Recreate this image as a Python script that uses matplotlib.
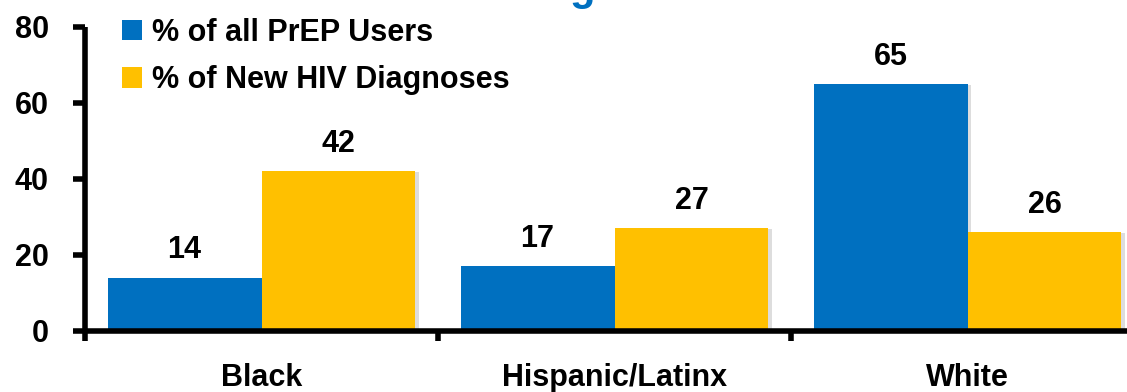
import matplotlib
matplotlib.use("Agg")
import matplotlib.pyplot as plt
import matplotlib.patheffects as pe
from matplotlib.patches import Patch
import numpy as np

# ---- data ----
groups = ["Black", "Hispanic/Latinx", "White"]
prep_users = [14, 17, 65]
new_dx = [42, 27, 26]
series_names = ["% of all PrEP Users", "% of New HIV Diagnoses"]
y_ticks = [0, 20, 40, 60, 80]

BLUE = "#0070C0"
GOLD = "#FFC000"
FS = 22

plt.rcParams["font.family"] = ["Liberation Sans", "DejaVu Sans"]
plt.rcParams["font.weight"] = "bold"

fig = plt.figure(figsize=(11.27, 3.92), dpi=100)
ax = fig.add_axes([85 / 1127, 61 / 392, 1059 / 1127, 304 / 392])

x = np.arange(len(groups))
w = 0.436
shadow = [pe.SimplePatchShadow(offset=(2.5, -0.5), shadow_rgbFace="#909090", alpha=0.3), pe.Normal()]
b1 = ax.bar(x - w / 2, prep_users, w, color=BLUE, zorder=2)
b2 = ax.bar(x + w / 2, new_dx, w, color=GOLD, zorder=2)
for bar in list(b1) + list(b2):
    bar.set_path_effects(shadow)

# value labels over the bars
for bars, vals in ((b1, prep_users), (b2, new_dx)):
    for bar, v in zip(bars, vals):
        ax.annotate(f"{v}", (bar.get_x() + bar.get_width() / 2, v),
                    xytext=(0, 14), textcoords="offset points",
                    ha="center", va="baseline", fontsize=FS, fontweight="bold")

ax.set_xlim(-0.5, 2.5)
ax.set_ylim(0, 80)

for side in ("top", "right"):
    ax.spines[side].set_visible(False)
for side in ("left", "bottom"):
    ax.spines[side].set_linewidth(4)
    ax.spines[side].set_capstyle("butt")

ax.set_yticks(y_ticks)
ax.tick_params(axis="y", length=9, width=4, pad=17, labelsize=FS, direction="out")

ax.set_xticks(x)
ax.set_xticklabels(groups)
ax.set_xticks(np.arange(-0.5, 3, 1), minor=True)
ax.tick_params(axis="x", which="major", length=0, pad=23, labelsize=FS)
ax.tick_params(axis="x", which="minor", length=7, width=4, direction="out")
for lbl in ax.get_xticklabels() + ax.get_yticklabels():
    lbl.set_fontweight("bold")

handles = [Patch(facecolor=BLUE), Patch(facecolor=GOLD)]
leg = ax.legend(handles, series_names, loc="upper left",
                bbox_to_anchor=(122 / 1127, 1 - 18 / 392), bbox_transform=fig.transFigure,
                frameon=False, fontsize=FS, handlelength=0.65, handleheight=0.65,
                handletextpad=0.33, labelspacing=0.56, borderpad=0, borderaxespad=0)
for t in leg.get_texts():
    t.set_fontweight("bold")

# title above the plot area, mostly outside the canvas
fig.text(0.516, 1.0, "g", color=BLUE, fontsize=30, fontweight="bold",
         ha="center", va="baseline")

fig.savefig("out.png", dpi=100)
